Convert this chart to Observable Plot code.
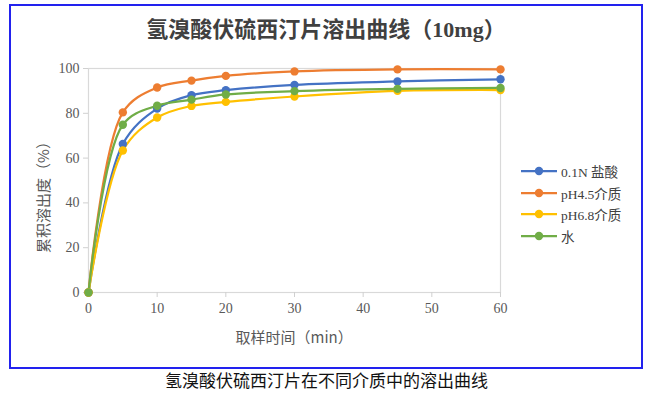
<!DOCTYPE html>
<html>
<head>
<meta charset="utf-8">
<script src="https://cdn.jsdelivr.net/npm/d3@7"></script>
<script src="https://cdn.jsdelivr.net/npm/@observablehq/plot@0.6"></script>
<style>
  html, body { margin: 0; padding: 0; background: #fff; }
  #page { position: relative; width: 653px; height: 394px; overflow: hidden; background: #fff; }
  #frame { position: absolute; left: 9px; top: 4px; width: 630px; height: 361px; border: 2px solid #2222ee; }
  #title { position: absolute; left: 10px; width: 632px; top: 15px; text-align: center;
    font-family: "Liberation Serif", "Noto Sans CJK SC", serif; font-weight: bold; font-size: 22px; color: #404040; line-height: 30px; }
  #caption { position: absolute; left: 0; width: 653px; top: 369px; text-align: center;
    font-family: "Noto Sans CJK SC", sans-serif; font-size: 17px; color: #111; line-height: 22px; }
  #chart { position: absolute; left: 0; top: 0; }
  #legend { position: absolute; left: 521px; top: 160px; font-family: "Liberation Serif", "Noto Sans CJK SC", serif; font-size: 13.5px; color: #404040; }
  .row { display: flex; align-items: center; height: 21.7px; }
  .row svg { margin-right: 4px; }
  .xlab, .ylab { position: absolute; font-family: "Noto Sans CJK SC", sans-serif; font-size: 15px; color: #595959; white-space: nowrap; }
</style>
</head>
<body>
<div id="page">
  <div id="chart"></div>
  <div id="frame"></div>
  <div id="title"></div>
  <div id="legend"></div>
  <div id="caption"></div>
</div>
<script>
const titleText = "氢溴酸伏硫西汀片溶出曲线（10mg）";
const captionText = "氢溴酸伏硫西汀片在不同介质中的溶出曲线";
const xLabel = "取样时间（min）";
const yLabel = "累积溶出度（%）";

const times = [0, 5, 10, 15, 20, 30, 45, 60];
const seriesNames = ["0.1N 盐酸", "pH4.5介质", "pH6.8介质", "水"];
const seriesColors = ["#4472C4", "#ED7D31", "#FFC000", "#70AD47"];
const hcl = [0, 66.3, 82.1, 88.1, 90.3, 92.7, 94.2, 95.2];
const ph45 = [0, 80.4, 91.5, 94.6, 96.7, 98.7, 99.6, 99.6];
const ph68 = [0, 63.4, 78.1, 83.3, 85.1, 87.5, 90.0, 90.4];
const water = [0, 74.9, 83.4, 86.1, 88.4, 89.9, 90.9, 91.3];
const xTicks = [0, 10, 20, 30, 40, 50, 60];
const yTicks = [0, 20, 40, 60, 80, 100];

const seriesValues = [hcl, ph45, ph68, water];
const rows = seriesValues.flatMap((vals, i) =>
  vals.map((v, j) => ({series: seriesNames[i], t: times[j], v})));

document.getElementById("title").textContent = titleText;
document.getElementById("caption").textContent = captionText;

const tickFont = "Liberation Serif, serif";

const chart = Plot.plot({
  width: 653,
  height: 394,
  marginLeft: 88,
  marginRight: 153,
  marginTop: 68,
  marginBottom: 102,
  style: { background: "transparent", overflow: "visible" },
  x: { domain: [0, 60], label: null },
  y: { domain: [0, 100], label: null },
  color: { domain: seriesNames, range: seriesColors },
  marks: [
    Plot.frame({ stroke: "#d9d9d9", strokeWidth: 1.2 }),
    Plot.axisX({ ticks: xTicks, tickSize: 5, tickPadding: 6, stroke: "#d0d0d0", fill: "#595959",
      fontSize: 14, fontFamily: tickFont, label: null, tickFormat: d => String(d) }),
    Plot.axisY({ ticks: yTicks, tickSize: 5, tickPadding: 4, stroke: "#d0d0d0", fill: "#595959",
      fontSize: 14, fontFamily: tickFont, label: null, tickFormat: d => String(d) }),
    Plot.line(rows, { x: "t", y: "v", z: "series", stroke: "series", strokeWidth: 2.25, curve: "catmull-rom" }),
    Plot.dot(rows, { x: "t", y: "v", fill: "series", r: 4.2 })
  ]
});
document.getElementById("chart").appendChild(chart);

// axis titles positioned from the chart's own scales
const sx = chart.scale("x"), sy = chart.scale("y");
const page = document.getElementById("page");
const xl = document.createElement("div");
xl.className = "xlab"; xl.textContent = xLabel;
page.appendChild(xl);
xl.style.left = ((sx.range[0] + sx.range[1]) / 2 - xl.offsetWidth / 2) + "px";
xl.style.top = (sy.range[0] + 34) + "px";
const yl = document.createElement("div");
yl.className = "ylab"; yl.textContent = yLabel;
page.appendChild(yl);
const w = yl.offsetWidth, h = yl.offsetHeight;
yl.style.left = (42 - w / 2) + "px";
yl.style.top = (193 - h / 2) + "px";
yl.style.transform = "rotate(-90deg)";

// legend
const legend = document.getElementById("legend");
seriesNames.forEach((name, i) => {
  const row = document.createElement("div");
  row.className = "row";
  const s = d3.create("svg").attr("width", 36).attr("height", 10);
  s.append("line").attr("x1", 0).attr("x2", 36).attr("y1", 5).attr("y2", 5)
    .attr("stroke", seriesColors[i]).attr("stroke-width", 2.25);
  s.append("circle").attr("cx", 18).attr("cy", 5).attr("r", 4.2).attr("fill", seriesColors[i]);
  row.appendChild(s.node());
  const t = document.createElement("span");
  t.textContent = name;
  row.appendChild(t);
  legend.appendChild(row);
});
</script>
</body>
</html>
